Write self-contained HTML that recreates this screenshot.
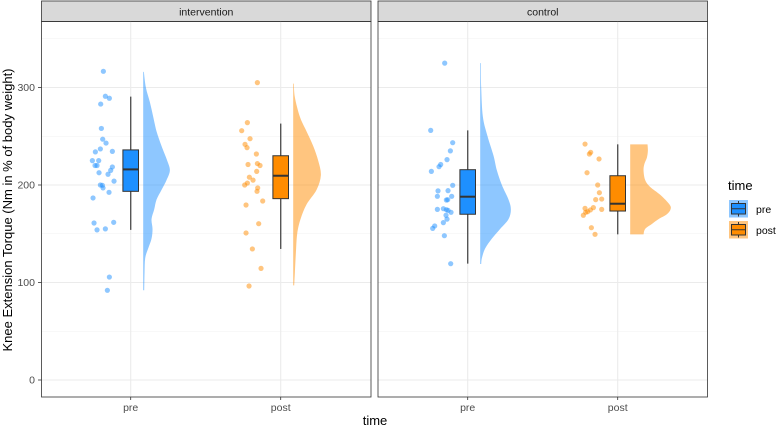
<!DOCTYPE html>
<html><head><meta charset="utf-8"><style>
body{margin:0;background:#fff;}
svg{display:block;font-family:"Liberation Sans",sans-serif;}
</style></head><body>
<svg id="chart" width="777" height="428"></svg>
<script>
const panels = ['intervention','control'];
const categories = ['pre','post'];
const yTicks = [0,100,200,300];
const yMinor = [50,150,250,350];
const ptsIntPre = [316.6,291,289,283,258,247,243,237,234,234.5,225,225,220,220,218.5,215,212.6,211,204,200,199.7,197,192.5,186.7,161,161.7,154,155,105.6,92];
const jitIntPre = [190,196,208,182,184,188,198,181,166,217,157,176,165,171,217,212,177,204,222,181,187,189,207,159,162,221,171,196,208,202];
const ptsIntPost = [305,264,255.7,247.5,241.7,238.3,231.8,221,222,220,214,208,205,202,200,197,193.5,183.6,179.5,160.3,150.8,134.4,114.5,96.4];
const jitIntPost = [652,622,605,630,615,621,649,624,652,660,650,628,639,622,614,653,651,668,618,656,618,637,663,627];
const ptsCtlPre = [325,256,243.4,235,226,221,218.8,214,199.7,194,194.2,188.4,188.4,184.6,184.9,175,175.7,174.7,174,172,169,165,161.4,158,155.5,148,119.3];
const jitCtlPre = [203,161,227,220,210,191,186,163,227,183,213,181,224,208,212,181,199,208,213,222,207,210,199,173,167,202,221];
const ptsCtlPost = [242,233.5,231.8,226.7,212.6,200,192.1,185.6,185,176.8,175,176,174.4,172.6,172,169,156.2,149.4];
const jitCtlPost = [624,641,637,666,630,662,667,674,656,649,674,624,640,632,626,619,643,654];
const boxIntPre = [154,193.5,216,236,290.6];
const boxIntPost = [134.4,186,209.5,230,263];
const boxCtlPre = [119.3,170,188,215.7,256];
const boxCtlPost = [149.4,173.3,180.8,209.5,241.7];
const vIntPreY = [316,300,285,270,255,240,225,215,205,195,185,175,165,155,145,135,125,110,92];
const vIntPreW = [2,8,20,30,40,55,72,80,70,55,40,33,25,28,25,15,6,4,3];
const vIntPostY = [304,290,270,255,240,225,210,195,180,165,150,130,110,97];
const vIntPostW = [2,5,20,40,60,75,83,70,40,22,12,8,5,3];
const vCtlPreY = [325,300,270,250,230,215,200,185,175,165,155,145,135,125,119];
const vCtlPreW = [2,3,8,22,40,50,65,85,92,85,60,35,15,5,3];
const vCtlPostY = [241.7,235,228,222,215,205,198,190,180,175,170,165,160,155,149.4];
const vCtlPostW = [52,53,50,43,40,45,60,90,118,121,110,85,65,45,40];

const NS='http://www.w3.org/2000/svg';
const svg=document.getElementById('chart');
function mk(tag,attrs,parent){const e=document.createElementNS(NS,tag);for(const k in attrs)e.setAttribute(k,attrs[k]);(parent||svg).appendChild(e);return e;}
const y=v=>380-0.975*v;
const panelX=[[41.5,371],[378,707.5]];
const catX=[[130.7,280.7],[467.7,617.7]];
const plotTop=21.5,plotBottom=397;
const fills={pre:'#1E90FF',post:'#FF8C00'};
const soft={pre:'rgba(30,144,255,0.5)',post:'rgba(255,140,0,0.5)'};
const data=[[[ptsIntPre,jitIntPre,boxIntPre,vIntPreY,vIntPreW],[ptsIntPost,jitIntPost,boxIntPost,vIntPostY,vIntPostW]],
            [[ptsCtlPre,jitCtlPre,boxCtlPre,vCtlPreY,vCtlPreW],[ptsCtlPost,jitCtlPost,boxCtlPost,vCtlPostY,vCtlPostW]]];
const zoomCenter=[272,722];

function smoothPath(P){
  let d='M'+P[0][0].toFixed(2)+','+P[0][1].toFixed(2);
  for(let i=0;i<P.length-1;i++){
    const p0=P[i-1]||P[i],p1=P[i],p2=P[i+1],p3=P[i+2]||P[i+1];
    const c1=[p1[0]+(p2[0]-p0[0])/6,p1[1]+(p2[1]-p0[1])/6];
    const c2=[p2[0]-(p3[0]-p1[0])/6,p2[1]-(p3[1]-p1[1])/6];
    d+=' C'+c1[0].toFixed(2)+','+c1[1].toFixed(2)+' '+c2[0].toFixed(2)+','+c2[1].toFixed(2)+' '+p2[0].toFixed(2)+','+p2[1].toFixed(2);
  }
  return d;
}

panels.forEach((p,pi)=>{
  const [x0,x1]=panelX[pi];
  const g=mk('g',{});
  
  
  const hdr=mk('rect',{x:x0,y:1,width:x1-x0,height:plotTop-1,fill:'#d9d9d9',stroke:'#333','stroke-width':0.8},g);
  
  
  const ht=mk('text',{x:(x0+x1)/2,y:15.5,'text-anchor':'middle','font-size':10.5,fill:'#1a1a1a'},g);
  ht.textContent=p;
  
  
  yMinor.forEach(v=>{const l=mk('line',{x1:x0,x2:x1,y1:y(v),y2:y(v),stroke:'#f0f0f0','stroke-width':0.6},g);
    });
  yTicks.forEach(v=>{const l=mk('line',{x1:x0,x2:x1,y1:y(v),y2:y(v),stroke:'#ebebeb','stroke-width':1.1},g);
    });
  categories.forEach((c,ci)=>{const cx=catX[pi][ci];
    const l=mk('line',{x1:cx,x2:cx,y1:plotTop,y2:plotBottom,stroke:'#ebebeb','stroke-width':1.1},g);
    
    const tk=mk('line',{x1:cx,x2:cx,y1:plotBottom,y2:plotBottom+3,stroke:'#333','stroke-width':0.8},g);
    
    const tl=mk('text',{x:cx,y:411,'text-anchor':'middle','font-size':10.5,fill:'#4d4d4d'},g);
    tl.textContent=c;
  });
  categories.forEach((c,ci)=>{
    const [pts,jit,box,vy,vw]=data[pi][ci];
    const cx=catX[pi][ci];
    const vx=cx+12.5;
    const P=vy.map((v,i)=>[vx+vw[i]/3,y(v)]);
    let d='M'+vx+','+y(vy[0])+' L'+smoothPath(P).slice(1);
    d+=' L'+vx+','+y(vy[vy.length-1])+' Z';
    const vp=mk('path',{d:d,fill:soft[c],stroke:'none'},g);
    
    pts.forEach((v,i)=>{
      const px=cx+(jit[i]-zoomCenter[ci])/3;
      const pt=mk('circle',{cx:px,cy:y(v),r:2.6,fill:soft[c]},g);
      
      
    });
    const wl=mk('line',{x1:cx,x2:cx,y1:y(box[0]),y2:y(box[4]),stroke:'#555','stroke-width':1.4},g);
    
    const br=mk('rect',{x:cx-7.8,y:y(box[3]),width:15.6,height:y(box[1])-y(box[3]),fill:fills[c],stroke:'#333','stroke-width':1},g);
    
    const md=mk('line',{x1:cx-7.8,x2:cx+7.8,y1:y(box[2]),y2:y(box[2]),stroke:'#333','stroke-width':2},g);
    
  });
  const fr=mk('rect',{x:x0,y:plotTop,width:x1-x0,height:plotBottom-plotTop,fill:'none',stroke:'#333','stroke-width':0.8},g);
  
});
yTicks.forEach(v=>{
  const t=mk('text',{x:35,y:y(v)+3.5,'text-anchor':'end','font-size':10.5,fill:'#4d4d4d'});
  t.textContent=v;
  const tk=mk('line',{x1:38,x2:41.5,y1:y(v),y2:y(v),stroke:'#333','stroke-width':0.8});
  
});
const yt=mk('text',{x:0,y:0,transform:'translate(12,210) rotate(-90)','text-anchor':'middle','font-size':13,fill:'#000'});
yt.textContent='Knee Extension Torque (Nm in % of body weight)';

const xt=mk('text',{x:375,y:425,'text-anchor':'middle','font-size':13,fill:'#000'});
xt.textContent='time';

const lg=mk('g',{});

const lt=mk('text',{x:728,y:190,'font-size':13,fill:'#000'},lg);
lt.textContent='time';
categories.forEach((c,i)=>{
  const ky=200+i*21;
  const e=mk('g',{},lg);
  
  mk('rect',{x:729,y:ky,width:19,height:17.5,fill:soft[c]},e);
  mk('line',{x1:738.5,x2:738.5,y1:ky+1,y2:ky+16.5,stroke:'#333','stroke-width':1},e);
  mk('rect',{x:731.5,y:ky+3.5,width:14,height:10.5,fill:fills[c],stroke:'#333','stroke-width':1},e);
  mk('line',{x1:731.5,x2:745.5,y1:ky+8.75,y2:ky+8.75,stroke:'#333','stroke-width':1},e);
  const t=mk('text',{x:756,y:ky+13,'font-size':10.5,fill:'#000'},e);
  t.textContent=c;
});
</script>
</body></html>
